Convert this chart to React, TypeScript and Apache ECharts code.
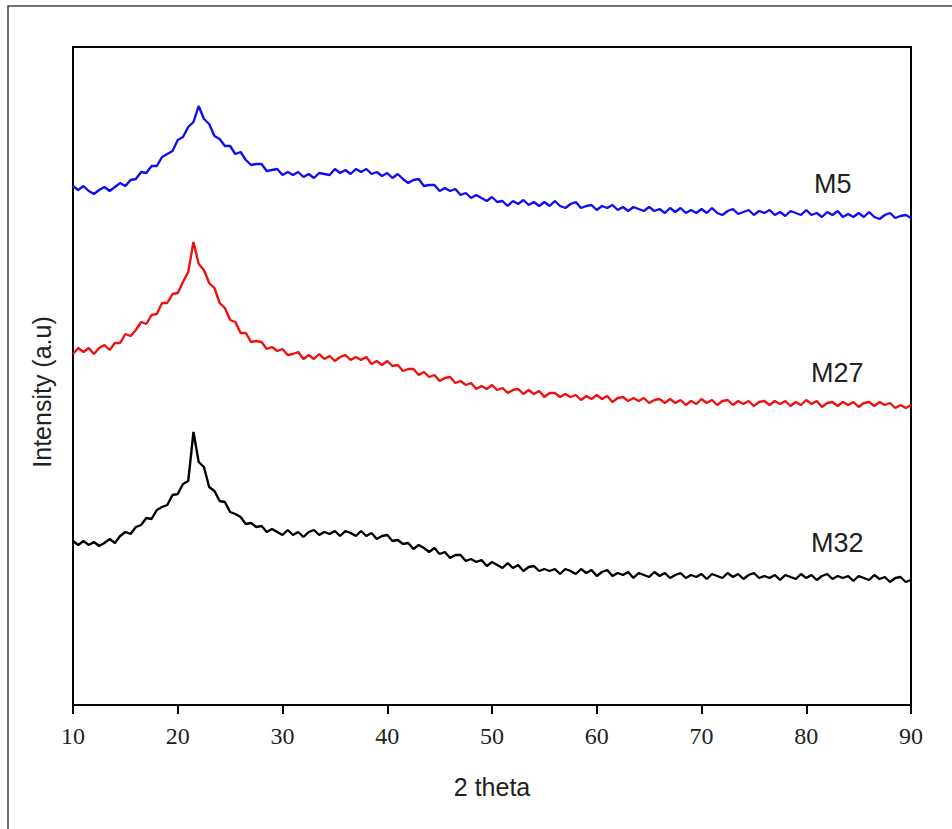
import React, { useEffect, useRef } from "react";
import * as echarts from "echarts";

// 2θ sampling grid (degrees)
const THETA_START = 10;
const THETA_STEP = 0.5;

// Intensity (a.u.), one value per 0.5° from 10° to 90°
const m5: number[] = [
  519, 515, 519, 514, 511, 515, 518, 514, 518, 522, 519, 525, 526, 533, 532, 539, 539, 548, 551, 554,
  565, 568, 578, 583, 599, 586, 581, 569, 566, 559, 559, 551, 553, 545, 540, 541, 541, 534, 535, 536,
  530, 533, 530, 533, 528, 531, 527, 532, 531, 530, 536, 532, 535, 531, 536, 533, 536, 531, 533, 529,
  532, 527, 531, 526, 522, 525, 526, 519, 520, 520, 514, 517, 514, 516, 510, 512, 507, 510, 507, 504,
  508, 503, 504, 499, 504, 501, 505, 500, 503, 499, 503, 499, 504, 499, 497, 501, 503, 497, 499, 500,
  495, 499, 497, 500, 495, 498, 494, 498, 496, 494, 498, 494, 496, 492, 497, 493, 497, 492, 495, 492,
  496, 492, 497, 492, 490, 494, 496, 491, 493, 495, 490, 494, 492, 495, 490, 493, 489, 494, 492, 490,
  495, 490, 492, 488, 493, 490, 494, 488, 491, 488, 492, 488, 493, 488, 486, 490, 492, 487, 489, 490,
  487,
];

const m27: number[] = [
  351, 357, 353, 357, 351, 357, 360, 355, 362, 362, 371, 369, 375, 383, 381, 390, 391, 402, 402, 411,
  412, 423, 433, 463, 441, 435, 422, 417, 402, 397, 385, 383, 372, 372, 363, 364, 363, 356, 358, 354,
  356, 350, 351, 353, 346, 350, 346, 351, 346, 349, 344, 348, 350, 345, 348, 345, 348, 341, 344, 340,
  344, 339, 340, 334, 336, 336, 330, 333, 328, 330, 324, 327, 328, 322, 324, 320, 322, 316, 319, 316,
  320, 315, 317, 312, 315, 316, 311, 315, 311, 314, 308, 312, 312, 308, 311, 308, 310, 305, 309, 306,
  310, 306, 309, 303, 307, 308, 304, 307, 304, 307, 302, 305, 306, 302, 306, 302, 305, 300, 304, 301,
  306, 302, 305, 300, 304, 305, 300, 304, 301, 304, 299, 303, 304, 300, 304, 301, 304, 299, 303, 300,
  305, 301, 304, 298, 302, 303, 299, 303, 300, 303, 298, 302, 303, 299, 303, 300, 302, 297, 300, 297,
  300,
];

const m32: number[] = [
  164, 160, 164, 160, 163, 159, 162, 166, 162, 169, 173, 171, 178, 180, 187, 186, 195, 198, 200, 210,
  211, 221, 224, 273, 243, 238, 218, 214, 204, 203, 193, 191, 188, 181, 182, 178, 179, 173, 176, 173,
  170, 175, 170, 173, 168, 173, 175, 170, 173, 171, 174, 169, 174, 172, 169, 174, 169, 172, 166, 169,
  170, 164, 165, 161, 162, 156, 160, 157, 153, 157, 151, 153, 147, 150, 150, 144, 146, 143, 145, 139,
  143, 140, 137, 142, 137, 140, 134, 138, 139, 134, 136, 134, 136, 131, 136, 134, 131, 136, 132, 135,
  129, 133, 135, 129, 132, 130, 133, 127, 132, 130, 128, 133, 129, 132, 127, 130, 132, 127, 130, 128,
  131, 126, 131, 129, 127, 132, 128, 131, 126, 130, 132, 127, 129, 127, 130, 125, 130, 128, 126, 131,
  127, 130, 125, 129, 131, 126, 129, 127, 129, 124, 129, 127, 125, 130, 126, 128, 123, 127, 128, 123,
  125,
];

const xTicks = [10, 20, 30, 40, 50, 60, 70, 80, 90];
const seriesNames = ["M5", "M27", "M32"];
const seriesColors = ["#1010ee", "#ee1111", "#000000"];

export default function App() {
  const ref = useRef<HTMLDivElement>(null);

  useEffect(() => {
    if (!ref.current) return;
    const chart = echarts.init(ref.current, undefined, { renderer: "svg" });
    const theta = m5.map((_, i) => THETA_START + i * THETA_STEP);
    const all = [m5, m27, m32];

    const labelText = (text: string, x: number, y: number) => ({
      type: "text",
      x,
      y,
      style: {
        text,
        fill: "#222",
        font: "27px 'Liberation Sans', Arial, sans-serif",
        textAlign: "left",
        textVerticalAlign: "middle",
      },
    });

    chart.setOption({
      animation: false,
      backgroundColor: "#ffffff",
      grid: {
        left: 73,
        top: 47,
        right: 41,
        bottom: 124,
        show: true,
        borderColor: "#000",
        borderWidth: 2,
        backgroundColor: "transparent",
      },
      xAxis: {
        type: "value",
        min: xTicks[0],
        max: xTicks[xTicks.length - 1],
        interval: 10,
        axisLine: { show: true, onZero: false, lineStyle: { color: "#000", width: 2 } },
        axisTick: { show: true, inside: false, length: 9, lineStyle: { color: "#000", width: 2 } },
        axisLabel: {
          color: "#222",
          fontFamily: "Liberation Serif",
          fontSize: 24,
          margin: 19,
        },
        splitLine: { show: false },
      },
      yAxis: {
        type: "value",
        min: 0,
        max: 658,
        axisLine: { show: true, lineStyle: { color: "#000", width: 2 } },
        axisTick: { show: false },
        axisLabel: { show: false },
        splitLine: { show: false },
      },
      series: all.map((vals, k) => ({
        name: seriesNames[k],
        type: "line",
        showSymbol: false,
        symbol: "none",
        data: vals.map((v, i) => [theta[i], v]),
        lineStyle: { color: seriesColors[k], width: 2.4 },
        itemStyle: { color: seriesColors[k] },
      })),
      graphic: [
        {
          type: "rect",
          silent: true,
          shape: { x: 8, y: 6, width: 1000, height: 1000 },
          style: { fill: "none", stroke: "#444", lineWidth: 1.5 },
        },
        {
          type: "text",
          x: 42,
          y: 392,
          rotation: Math.PI / 2,
          style: {
            text: "Intensity (a.u)",
            fill: "#222",
            font: "25px 'Liberation Sans', Arial, sans-serif",
            textAlign: "center",
            textVerticalAlign: "middle",
          },
        },
        {
          type: "text",
          x: 492,
          y: 787,
          style: {
            text: "2 theta",
            fill: "#222",
            font: "25px 'Liberation Sans', Arial, sans-serif",
            textAlign: "center",
            textVerticalAlign: "middle",
          },
        },
        labelText(seriesNames[0], 814, 184),
        labelText(seriesNames[1], 811, 373),
        labelText(seriesNames[2], 811, 543),
      ],
    });

    return () => chart.dispose();
  }, []);

  return (
    <div
      ref={ref}
      style={{ position: "fixed", left: 0, top: 0, width: 952, height: 829, background: "#fff" }}
    />
  );
}
